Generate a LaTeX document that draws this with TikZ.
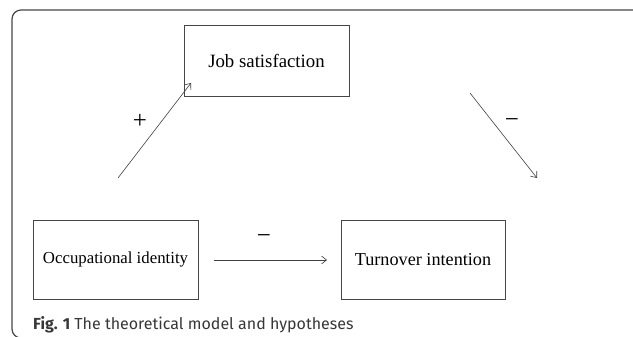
\documentclass[tikz,border=0pt]{standalone}
\usepackage{fontspec}
\setmainfont{Liberation Serif}
\newfontfamily\capfont{Fira Sans}
\usetikzlibrary{arrows.meta}
\definecolor{framegray}{RGB}{70,70,70}
\definecolor{capgray}{RGB}{55,55,55}
\tikzset{
    construct/.style={
           rectangle,
           draw=framegray, thick,
           inner sep=2pt,
           text centered,
           },
    path/.style={-{Straight Barb[length=5pt,width=8pt]}, draw=black!75, line width=0.6pt},
    sign/.style={inner sep=0pt, font=\fontsize{25}{25}\selectfont},
}
\begin{document}
\begin{tikzpicture}[x=1pt,y=-1pt]
      \useasboundingbox (0,0) rectangle (633,337);
      \draw[framegray, line width=1.2pt, rounded corners=9pt] (700,10) -- (12,10) -- (12,338) -- (700,338);
      % constructs
      \node[construct, minimum width=165pt, minimum height=71pt, font=\fontsize{18.8}{19}\selectfont] (js) at (266.5,61) {Job satisfaction};
      \node[construct, minimum width=165pt, minimum height=79pt, font=\fontsize{16.8}{17}\selectfont] (oi) at (115.5,259.5) {Occupational identity};
      \node[construct, minimum width=164pt, minimum height=79pt, font=\fontsize{18.2}{18}\selectfont] (ti) at (423,259.5) {Turnover intention};
      % hypothesised paths
      \coordinate (oi_up)   at (118,178);
      \coordinate (js_in)   at (191,83);
      \coordinate (js_out)  at (470,93);
      \coordinate (ti_in)   at (537,178);
      \coordinate (oi_out)  at (214,260);
      \coordinate (ti_left) at (327,260);
      \path[path] (oi_up) -- (js_in);
      \path[path] (js_out) -- (ti_in);
      \path[path] (oi_out) -- (ti_left);
      \node[sign] (h1) at (140,121) {+};
      \node[sign] (h2) at (512,123) {−};
      \node[sign] (h3) at (264,239) {−};
      % caption
      \node[anchor=west, inner sep=0pt, text=capgray, font=\capfont\fontsize{16}{16}\selectfont] (cap) at (33,325) {\textbf{Fig. 1} The theoretical model and hypotheses};
\end{tikzpicture}
\end{document}
